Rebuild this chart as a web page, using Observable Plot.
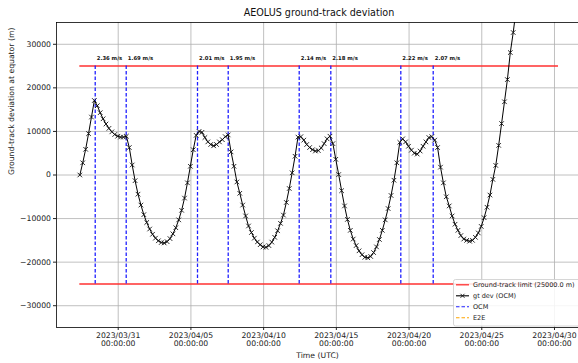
<!DOCTYPE html>
<html>
<head>
<meta charset="utf-8">
<script src="https://cdn.jsdelivr.net/npm/d3@7"></script>
<script src="https://cdn.jsdelivr.net/npm/@observablehq/plot@0.6"></script>
<style>
  body { margin: 0; background: #fff; font-family: "DejaVu Sans", sans-serif; }
  #wrap { position: relative; width: 578px; height: 363px; overflow: hidden; }
  #chart { position: absolute; left: 0; top: 0; }
  #title { position: absolute; left: 56px; width: 526px; top: 7px; text-align: center;
           font-size: 9.6px; line-height: 12px; color: #111; }
  #legend { position: absolute; left: 453px; top: 279px; }
</style>
</head>
<body>
<div id="wrap">
  <div id="chart"></div>
  <div id="title"></div>
  <svg id="legend" width="125" height="48"></svg>
</div>
<script>
// ---------------- data ----------------
const chartTitle = "AEOLUS ground-track deviation";
const xLabel = "Time (UTC)";
const yLabel = "Ground-track deviation at equator (m)";

// gt dev samples (m), one every 4.8 h starting at startTime
const startTime = "2023-03-28T08:40:00Z";
const stepHours = 4.8;
const gtDev = [
  0, 2800, 5900, 9500, 13300, 17100, 15900, 14300, 12900, 11700,
  10700, 9900, 9300, 8900, 8700, 8700, 8900, 6300, 2300, -1300,
  -4400, -6900, -9100, -10900, -12400, -13600, -14500, -15100, -15500, -15600,
  -15300, -14600, -13500, -12100, -10300, -8100, -5300, -1800, 2000, 5800,
  9100, 10000, 9800, 8600, 7600, 7000, 6700, 7000, 7600, 8100,
  8800, 9200, 5300, 2000, -1600, -4200, -6900, -9400, -11700, -13200,
  -14500, -15400, -16000, -16500, -16600, -16200, -15400, -14300, -12800, -11100,
  -9200, -6300, -3100, 500, 4300, 8700, 8800, 8000, 7000, 6300,
  5800, 5500, 5600, 6200, 7200, 8300, 8900, 7200, 3600, 100,
  -3600, -7100, -10200, -12700, -14700, -16200, -17400, -18300, -18900, -19000,
  -18700, -17800, -16500, -14800, -12700, -10300, -7700, -4700, -1200, 2800,
  7500, 8300, 7600, 6600, 5700, 5000, 4800, 5500, 6600, 7600,
  8600, 8800, 8000, 6300, 1800, -1800, -5000, -7100, -9400, -11300,
  -12700, -13900, -14700, -15000, -15200, -15000, -14300, -13300, -11800, -9800,
  -7400, -4600, -1000, 2200, 6800, 11800, 16800, 21900, 28100, 32700,
  38000
];

// OCM manoeuvres
const ocmTimes = [
  "2023-03-29T10:03:00Z", "2023-03-31T13:12:00Z",
  "2023-04-05T10:52:00Z", "2023-04-07T13:32:00Z",
  "2023-04-12T10:42:00Z", "2023-04-14T14:51:00Z",
  "2023-04-19T10:22:00Z", "2023-04-21T15:50:00Z"
];
const ocmSpeeds = [2.36, 1.69, 2.01, 1.95, 2.14, 2.18, 2.22, 2.07]; // m/s

// ground-track limit
const limitValue = 25000;
const limitSpan = ["2023-03-28T08:40:00Z", "2023-04-30T06:40:00Z"];

// axes
const xTicks = ["2023-03-31", "2023-04-05", "2023-04-10", "2023-04-15", "2023-04-20", "2023-04-25", "2023-04-30"];
const yTicks = [-30000, -20000, -10000, 0, 10000, 20000, 30000];
const xDomain = ["2023-03-26T18:10:00Z", "2023-05-01T15:37:00Z"];
const yDomain = [-35000, 35000];

// legend labels
const legendLabels = [`Ground-track limit (${limitValue.toFixed(1)} m)`, "gt dev (OCM)", "OCM", "E2E"];

// ---------------- build tables ----------------
const t0 = new Date(startTime).getTime();
const gt = gtDev.map((v, i) => ({t: new Date(t0 + i * stepHours * 3600e3), v}));
const ocm = ocmTimes.map((t, i) => ({t: new Date(t), v: ocmSpeeds[i]}));
const limits = [limitValue, -limitValue].map(y => ({y, x1: new Date(limitSpan[0]), x2: new Date(limitSpan[1])}));
const xTickDates = xTicks.map(d => new Date(d + "T00:00:00Z"));
const xDom = xDomain.map(d => new Date(d));

const chart = Plot.plot({
  width: 578, height: 363,
  marginLeft: 56, marginRight: 0, marginTop: 22, marginBottom: 36,
  style: {fontFamily: "DejaVu Sans", fontSize: "7.7px", color: "#222", background: "transparent"},
  x: {type: "utc", domain: xDom},
  y: {domain: yDomain},
  marks: [
    Plot.gridX(xTickDates, {stroke: "#b0b0b0", strokeOpacity: 1, strokeWidth: 0.8}),
    Plot.gridY(yTicks, {stroke: "#b0b0b0", strokeOpacity: 1, strokeWidth: 0.8}),
    Plot.ruleY(limits, {y: "y", x1: "x1", x2: "x2", stroke: "#ff3030", strokeWidth: 1.6}),
    Plot.ruleX(ocm, {x: "t", y1: -limitValue, y2: limitValue, stroke: "#2020ff", strokeWidth: 1.3,
                     strokeDasharray: "3.5,2"}),
    Plot.text(ocm, {x: "t", y: 26700, text: d => `${d.v.toFixed(2)} m/s`, textAnchor: "start", dx: 1.5,
                    fontSize: 5.3, fontWeight: "bold", fill: "#111"}),
    Plot.line(gt, {x: "t", y: "v", stroke: "#000", strokeWidth: 1, clip: true}),
    Plot.dot(gt, {x: "t", y: "v", symbol: "times", r: 2.2, stroke: "#111", strokeWidth: 0.9, clip: true}),
    Plot.ruleX([xDom[0]], {stroke: "#000", strokeWidth: 0.8}),
    Plot.ruleY(yDomain, {stroke: "#000", strokeWidth: 0.8}),
    Plot.axisX({ticks: xTickDates, tickFormat: d3.utcFormat("%Y/%m/%d\n%H:%M:%S"), tickSize: 3, tickPadding: 2.5,
                label: null, fontSize: 7.7}),
    Plot.axisY({ticks: yTicks, tickFormat: d3.format("d"), tickSize: 3, tickPadding: 2.5, label: null, fontSize: 7.7}),
    Plot.text([xLabel], {frameAnchor: "bottom", dy: 30, text: d => d, fontSize: 7.7}),
    Plot.text([yLabel], {frameAnchor: "left", dx: -45, rotate: -90, text: d => d, fontSize: 7.7})
  ]
});
document.getElementById("chart").appendChild(chart);
document.getElementById("title").textContent = chartTitle;

// ---------------- legend ----------------
const lg = d3.select("#legend");
lg.append("rect").attr("x", 0.5).attr("y", 0.5).attr("width", 140).attr("height", 46.5).attr("rx", 2)
  .attr("fill", "rgba(255,255,255,0.85)").attr("stroke", "#cccccc").attr("stroke-width", 0.8);
const handles = [
  {stroke: "#ff3030", dash: null, marker: false},
  {stroke: "#000", dash: null, marker: true},
  {stroke: "#2020ff", dash: "3.5,2", marker: false},
  {stroke: "#ffa500", dash: "3.5,2", marker: false}
];
legendLabels.forEach((label, k) => {
  const y = 5.8 + 11 * k;
  const h = handles[k];
  const ln = lg.append("line").attr("x1", 3).attr("x2", 16).attr("y1", y).attr("y2", y)
    .attr("stroke", h.stroke).attr("stroke-width", k === 0 ? 1.3 : 1.1);
  if (h.dash) ln.attr("stroke-dasharray", h.dash);
  if (h.marker) {
    lg.append("path").attr("d", `M${9.5-2},${y-2}L${9.5+2},${y+2}M${9.5-2},${y+2}L${9.5+2},${y-2}`)
      .attr("stroke", "#111").attr("stroke-width", 0.9).attr("fill", "none");
  }
  lg.append("text").attr("x", 20).attr("y", y).attr("dy", "0.35em")
    .attr("font-family", "DejaVu Sans").attr("font-size", 6.5).attr("fill", "#222").text(label);
});
</script>
</body>
</html>
